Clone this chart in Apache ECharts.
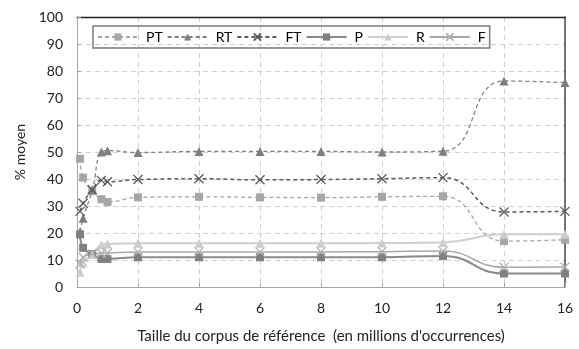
<!DOCTYPE html>
<html>
<head>
<meta charset="utf-8">
<script src="https://cdn.jsdelivr.net/npm/echarts@6/dist/echarts.min.js"></script>
<style>html,body{margin:0;padding:0;background:#fff}#c{width:579px;height:349px}</style>
</head>
<body>
<div id="c"></div>
<script>
const xVals = [0.1, 0.2, 0.5, 0.8, 1, 2, 4, 6, 8, 10, 12, 14, 16];
const PT = [47.5, 40.5, 35.5, 32.5, 31.5, 33.2, 33.4, 33.2, 33.1, 33.4, 33.6, 17, 17.5];
const RT = [20.5, 25.5, 36, 50, 50.5, 49.8, 50.2, 50.2, 50.2, 50, 50.3, 76.3, 75.7];
const FT = [28, 31, 36, 39.5, 39, 39.8, 40.1, 39.7, 39.8, 40.1, 40.5, 27.8, 28];
const P  = [19.5, 14.5, 12.2, 10.4, 10.4, 11, 11, 11, 11, 11, 11.5, 5, 5];
const R  = [5.5, 9, 12, 15.6, 15.9, 16.2, 16.2, 16.2, 16.2, 16.3, 16.5, 19.5, 19.5];
const F  = [8.5, 11, 12.2, 12.5, 12.6, 13, 13, 13, 13, 13.1, 13.3, 7.3, 7.4];
const seriesNames = ['PT', 'RT', 'FT', 'P', 'R', 'F'];
const yTicks = [0, 10, 20, 30, 40, 50, 60, 70, 80, 90, 100];
const xTicks = [0, 2, 4, 6, 8, 10, 12, 14, 16];
const xTitle = "Taille du corpus de référence  (en millions d'occurrences)";
const yTitle = '% moyen';

const FONT = 'Lato';
const X_PATH = 'path://M0,0L10,10M10,0L0,10';
function pts(arr){ return xVals.map((x,i)=>[x, arr[i]]); }

const chart = echarts.init(document.getElementById('c'));
function mk(name, data, color, dashed, width, symbol, size, lineColor, isX) {
  return {
    name, type: 'line', data: pts(data), smooth: 0.5,
    symbol, symbolSize: size,
    lineStyle: { color: lineColor || color, width, type: dashed ? [4, 3] : 'solid' },
    itemStyle: isX ? { color: 'rgba(0,0,0,0)', borderColor: color, borderWidth: 1.3 } : { color, borderWidth: 0 },
    emphasis: { disabled: true },
    z: 3
  };
}
chart.setOption({
  animation: false,
  textStyle: { fontFamily: FONT },
  grid: { left: 77, right: 14, top: 17, bottom: 59 },
  legend: {
    data: seriesNames,
    left: 93, top: 26,
    itemWidth: 40, itemHeight: 9, itemGap: 4,
    padding: [4, 4, 4, 4],
    borderColor: '#7a7a7a', borderWidth: 1.5,
    textStyle: { fontFamily: FONT, fontSize: 14, color: '#000', padding: [0, 0, 0, 3] }
  },
  xAxis: [{
    type: 'value', min: 0, max: 16, interval: 2,
    name: xTitle, nameLocation: 'middle', nameGap: 42,
    nameTextStyle: { fontFamily: FONT, fontSize: 15, color: '#222' },
    axisLine: { lineStyle: { color: '#a6a6a6', width: 1 } },
    axisTick: { show: true, inside: true, length: 4, lineStyle: { color: '#a6a6a6' } },
    axisLabel: { fontFamily: FONT, fontSize: 14, color: '#222', margin: 14,
      formatter: v => xTicks.includes(v) ? String(v) : '' },
    splitLine: { show: true, lineStyle: { color: '#cfcfcf', type: [5, 4] } }
  }, {
    type: 'value', min: 0, max: 16, position: 'top',
    axisLine: { show: true, onZero: false, lineStyle: { color: '#222', width: 1.3 } },
    axisTick: { show: false }, axisLabel: { show: false }, splitLine: { show: false }
  }],
  yAxis: [{
    type: 'value', min: 0, max: 100, interval: 10,
    name: yTitle, nameLocation: 'middle', nameGap: 50, nameRotate: 90,
    nameTextStyle: { fontFamily: FONT, fontSize: 14, color: '#222' },
    axisLine: { show: true, lineStyle: { color: '#a6a6a6', width: 1 } },
    axisTick: { show: true, inside: true, length: 4, lineStyle: { color: '#a6a6a6' } },
    axisLabel: { fontFamily: FONT, fontSize: 14, color: '#222', margin: 14,
      formatter: v => yTicks.includes(v) ? String(v) : '' },
    splitLine: { show: true, lineStyle: { color: '#cfcfcf', type: [5, 4] } }
  }, {
    type: 'value', min: 0, max: 100, position: 'right',
    axisLine: { show: true, onZero: false, lineStyle: { color: '#4a4a4a', width: 1.5 } },
    axisTick: { show: false }, axisLabel: { show: false }, splitLine: { show: false }
  }],
  series: [
    mk('PT', PT, '#a6a6a6', true, 1.3, 'rect', 8),
    mk('RT', RT, '#7f7f7f', true, 1.3, 'triangle', 9),
    mk('FT', FT, '#5a5a5a', true, 1.5, X_PATH, 9, null, true),
    mk('P', P, '#808080', false, 2, 'rect', 8, '#8a8a8a'),
    mk('R', R, '#cccccc', false, 2, 'triangle', 9, '#cfcfcf'),
    mk('F', F, '#b0b0b0', false, 1.5, X_PATH, 9, '#a8a8a8', true)
  ]
});
</script>
</body>
</html>
